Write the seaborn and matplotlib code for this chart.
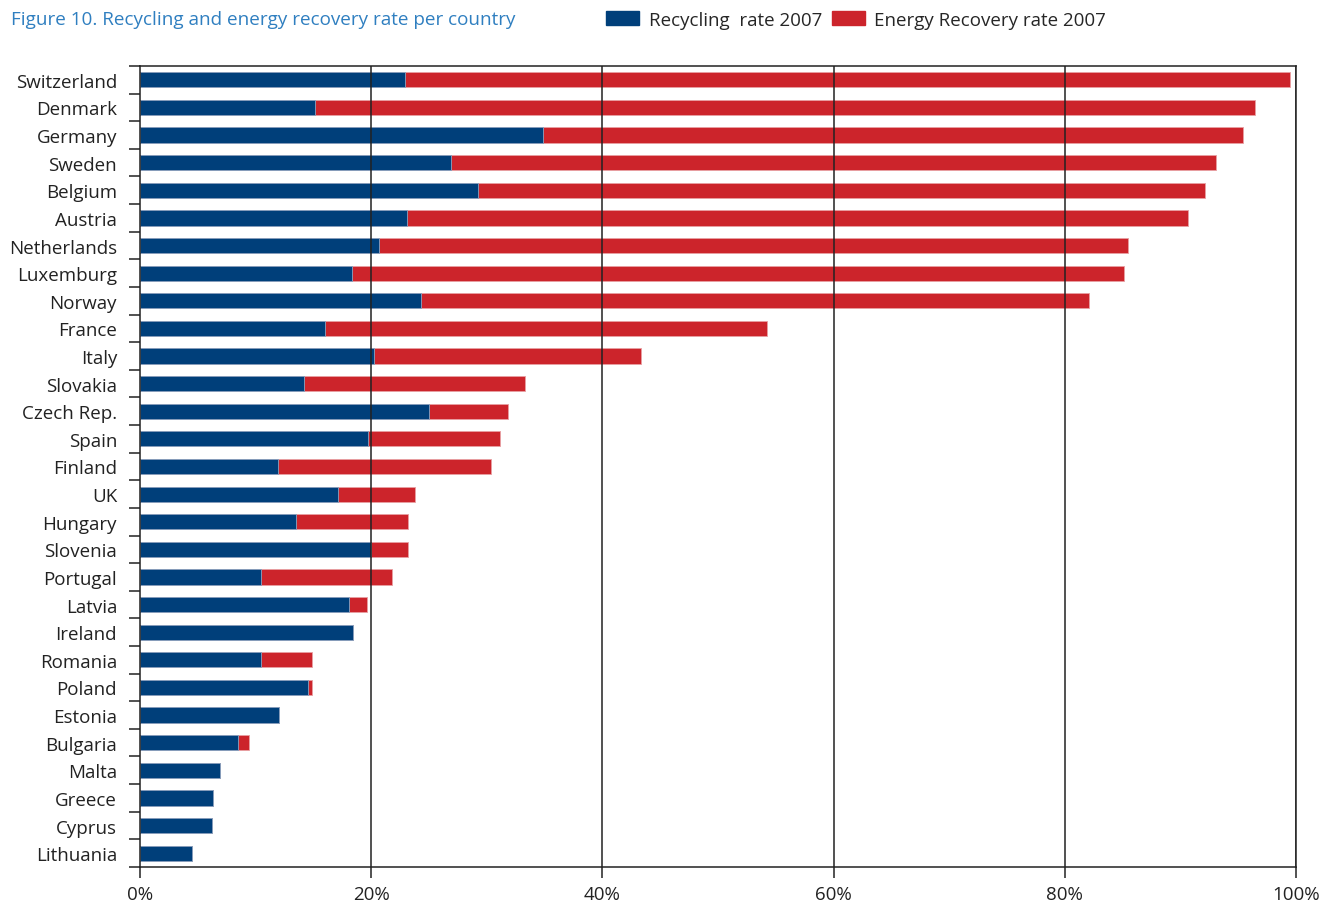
import matplotlib
matplotlib.use("Agg")
import matplotlib.pyplot as plt
from matplotlib.patches import Patch
from matplotlib.ticker import FixedLocator
import seaborn as sns
import pandas as pd

countries = ["Switzerland", "Denmark", "Germany", "Sweden", "Belgium", "Austria",
             "Netherlands", "Luxemburg", "Norway", "France", "Italy", "Slovakia",
             "Czech Rep.", "Spain", "Finland", "UK", "Hungary", "Slovenia",
             "Portugal", "Latvia", "Ireland", "Romania", "Poland", "Estonia",
             "Bulgaria", "Malta", "Greece", "Cyprus", "Lithuania"]
recycling = [22.9, 15.1, 34.9, 26.9, 29.2, 23.1, 20.7, 18.3, 24.3, 16.0, 20.2, 14.2,
             25.0, 19.7, 11.9, 17.1, 13.5, 20.0, 10.5, 18.1, 18.4, 10.5, 14.5, 12.0,
             8.5, 6.9, 6.3, 6.2, 4.5]
energy_recovery = [76.6, 81.4, 60.5, 66.2, 62.9, 67.6, 64.8, 66.8, 57.8, 38.2, 23.1, 19.1,
                   6.8, 11.4, 18.5, 6.7, 9.7, 3.2, 11.3, 1.5, 0.0, 4.4, 0.4, 0.0,
                   0.9, 0.0, 0.0, 0.0, 0.0]
x_ticks = [0, 20, 40, 60, 80, 100]
x_tick_labels = ["0%", "20%", "40%", "60%", "80%", "100%"]

BLUE = "#003f7a"
RED = "#cc242b"
TITLE_BLUE = "#2f7fc0"
INK = "#222222"

df = pd.DataFrame({"country": countries, "recycling": recycling,
                   "energy": energy_recovery})
df["total"] = df["recycling"] + df["energy"]

sns.set_theme(style="ticks")
plt.rcParams["font.family"] = ["Open Sans", "DejaVu Sans"]

fig = plt.figure(figsize=(13.22, 9.03), dpi=100)
ax = fig.add_axes([0.1059, 0.0388, 0.8744, 0.887])

# stacked bars: total first (red), recycling drawn over it (blue)
sns.barplot(data=df, x="total", y="country", orient="h", color=RED,
            width=0.55, saturation=1, edgecolor="#e8a0a3", linewidth=0.6, ax=ax)
sns.barplot(data=df, x="recycling", y="country", orient="h", color=BLUE,
            width=0.55, saturation=1, edgecolor="#8aa6c4", linewidth=0.6, ax=ax)

ax.set_xlim(0, 100)
ax.set_ylim(len(countries) - 0.5, -0.5)
ax.set_xlabel("")
ax.set_ylabel("")

ax.set_xticks(x_ticks)
ax.set_xticklabels(x_tick_labels, fontsize=13.5, color=INK)
ax.tick_params(axis="x", which="major", length=8, width=1.1, color=INK,
               direction="out", bottom=True, top=False, pad=5)
ax.tick_params(axis="x", which="minor", length=0)

# category labels without ticks; short separator ticks between rows
ax.tick_params(axis="y", which="major", length=0, labelsize=13.5,
               labelcolor=INK, pad=16.5)
ax.yaxis.set_minor_locator(FixedLocator([i - 0.5 for i in range(len(countries) + 1)]))
ax.tick_params(axis="y", which="minor", length=8, width=1.1, color=INK,
               left=True, right=False, direction="out")

for xv in x_ticks[1:]:
    ax.axvline(xv, color=INK, lw=1.1, zorder=5)

for side in ["left", "bottom", "top", "right"]:
    ax.spines[side].set_visible(True)
    ax.spines[side].set_color(INK)
    ax.spines[side].set_linewidth(1.1)

fig.text(0.008, 0.978, "Figure 10. Recycling and energy recovery rate per country",
         fontsize=13.6, color=TITLE_BLUE, ha="left", va="center")

handles = [Patch(facecolor=BLUE, edgecolor=BLUE),
           Patch(facecolor=RED, edgecolor=RED)]
fig.legend(handles, ["Recycling  rate 2007", "Energy Recovery rate 2007"],
           loc="center left", bbox_to_anchor=(0.453, 0.977), ncol=2, frameon=False,
           fontsize=13.5, handlelength=1.75, handleheight=0.8, handletextpad=0.5,
           columnspacing=0.55, borderaxespad=0)

fig.savefig("out.png", dpi=100)
